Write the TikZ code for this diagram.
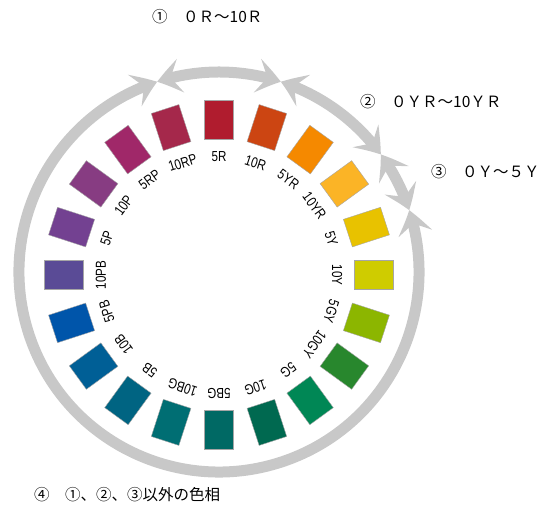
\documentclass[tikz,border=0pt]{standalone}
\usepackage{fontspec}
\usepackage{tikz}
\usetikzlibrary{arrows.meta,bending}
\newfontfamily\jpfont{Noto Sans CJK JP}
\newfontfamily\huefont{Liberation Sans}[FakeStretch=0.8]
\definecolor{ringgray}{RGB}{200,200,200}
\definecolor{h5R}{RGB}{176,28,46}
\definecolor{h10R}{RGB}{204,69,18}
\definecolor{h5YR}{RGB}{245,137,0}
\definecolor{h10YR}{RGB}{251,180,38}
\definecolor{h5Y}{RGB}{232,194,0}
\definecolor{h10Y}{RGB}{207,204,0}
\definecolor{h5GY}{RGB}{140,182,0}
\definecolor{h10GY}{RGB}{40,135,45}
\definecolor{h5G}{RGB}{0,135,85}
\definecolor{h10G}{RGB}{0,105,80}
\definecolor{h5BG}{RGB}{0,105,100}
\definecolor{h10BG}{RGB}{0,110,115}
\definecolor{h5B}{RGB}{0,100,130}
\definecolor{h10B}{RGB}{0,95,150}
\definecolor{h5PB}{RGB}{0,85,170}
\definecolor{h10PB}{RGB}{90,75,150}
\definecolor{h5P}{RGB}{115,65,145}
\definecolor{h10P}{RGB}{135,60,130}
\definecolor{h5RP}{RGB}{160,40,105}
\definecolor{h10RP}{RGB}{165,40,75}

\begin{document}
\begin{tikzpicture}[x=1pt,y=1pt,
    huebox/.style={draw=black!35,line width=0.4pt,minimum width=29pt,minimum height=39pt,inner sep=0pt},
    huelabel/.style={font=\huefont\fontsize{14.5}{16}\selectfont,inner sep=0pt},
    jptext/.style={font=\jpfont\fontsize{15.5}{18}\selectfont,inner sep=0pt,anchor=west},
    ringarrow/.style={ringgray,line width=11pt,
      {Stealth[length=24pt,width=34pt,inset=10pt,bend]}-{Stealth[length=24pt,width=34pt,inset=10pt,bend]}}]
    \useasboundingbox (0,0) rectangle (542,511);
	%the hue wheel
    \begin{scope}[shift={(219,236)}]
    \foreach \h [count=\i from 0] in {5R,10R,5YR,10YR,5Y,10Y,5GY,10GY,5G,10G,5BG,10BG,5B,10B,5PB,10PB,5P,10P,5RP,10RP}{
      \pgfmathsetmacro{\a}{90-18*\i}
      \node[huebox,fill=h\h,rotate=\a-90] (sq\i) at (\a:155pt) {};
      \node[huelabel,rotate=\a-90] (lb\i) at (\a:118pt) {\h};
    }
    \end{scope}
	%the grey ring, four ranges
    \begin{scope}[shift={(219,239)}]
    \coordinate (j1) at (108:200pt);
    \coordinate (j2) at (72:200pt);
    \coordinate (j3) at (36:200pt);
    \coordinate (j4) at (18:200pt);
    \draw[ringarrow] (j1) arc[start angle=108,end angle=72,radius=200pt];
    \draw[ringarrow] (j2) arc[start angle=72,end angle=36,radius=200pt];
    \draw[ringarrow] (j3) arc[start angle=36,end angle=18,radius=200pt];
    \draw[ringarrow] (j4) arc[start angle=18,end angle=-252,radius=200pt];
    \end{scope}
	%the ranges
    \node[jptext] (r1) at (152,494) {①　０Ｒ～10Ｒ};
    \node[jptext] (r2) at (360,409) {②　０ＹＲ～10ＹＲ};
    \node[jptext] (r3) at (431,339) {③　０Ｙ～５Ｙ};
    \node[jptext] (r4) at (34,16) {④　①、②、③以外の色相};
\end{tikzpicture}
\end{document}
